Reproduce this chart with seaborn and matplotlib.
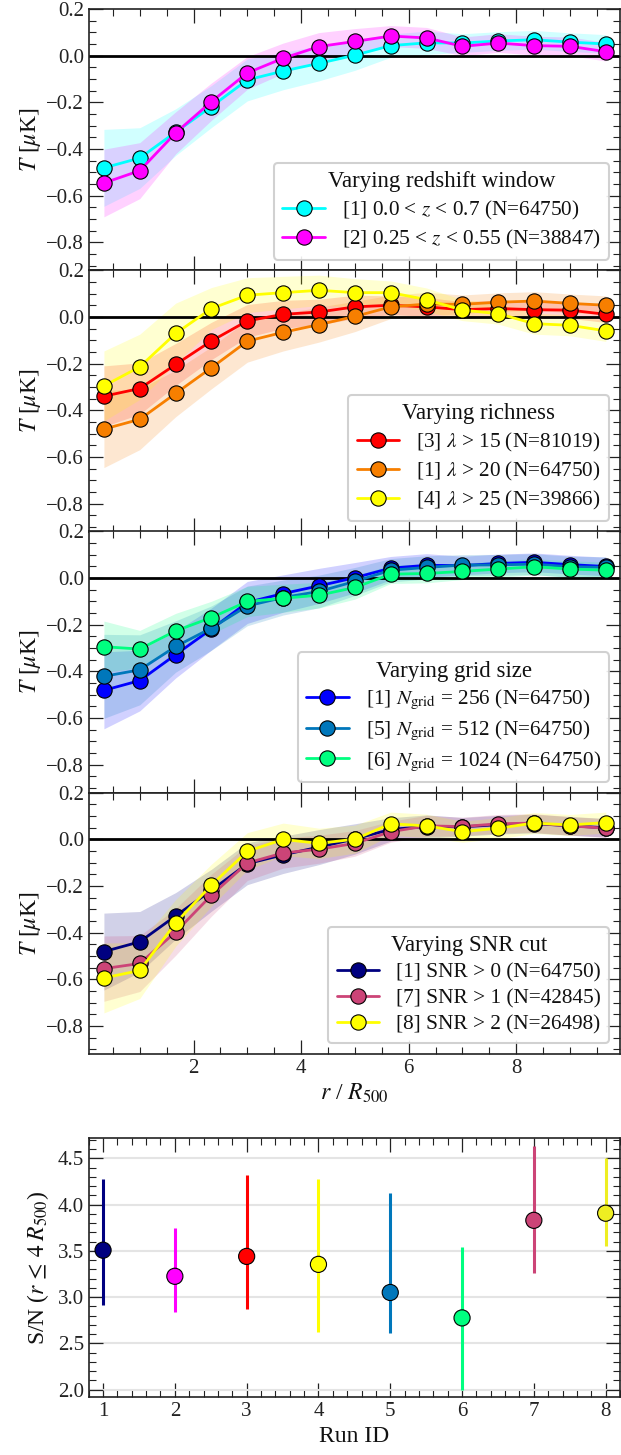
import numpy as np
import pandas as pd
import matplotlib
matplotlib.use("Agg")
import matplotlib.pyplot as plt
import seaborn as sns
from matplotlib.ticker import MultipleLocator

# Radial bin centres (r / R500)
r_bins = [0.333, 1.0, 1.667, 2.333, 3.0, 3.667, 4.333, 5.0,
          5.667, 6.333, 7.0, 7.667, 8.333, 9.0, 9.667]

# Stacked temperature profiles T [muK] and 1-sigma half widths per run
run1 = [-0.481, -0.439, -0.328, -0.218, -0.104, -0.066, -0.033, 0.002,
        0.043, 0.055, 0.054, 0.063, 0.068, 0.058, 0.050]
run1_err = [0.165, 0.13, 0.10, 0.09, 0.09, 0.08, 0.075, 0.065,
            0.05, 0.05, 0.04, 0.04, 0.04, 0.04, 0.04]
run2 = [-0.546, -0.493, -0.331, -0.197, -0.074, -0.011, 0.039, 0.061,
        0.084, 0.076, 0.040, 0.054, 0.043, 0.040, 0.017]
run2_err = [0.145, 0.12, 0.09, 0.08, 0.07, 0.065, 0.06, 0.055,
            0.045, 0.045, 0.04, 0.04, 0.04, 0.04, 0.04]
run3 = [-0.340, -0.307, -0.204, -0.103, -0.017, 0.011, 0.021, 0.043,
        0.050, 0.043, 0.031, 0.036, 0.031, 0.029, 0.011]
run3_err = [0.13, 0.11, 0.09, 0.08, 0.07, 0.06, 0.055, 0.05,
            0.04, 0.04, 0.035, 0.035, 0.035, 0.035, 0.035]
run4 = [-0.296, -0.214, -0.071, 0.036, 0.093, 0.104, 0.114, 0.104,
        0.104, 0.074, 0.029, 0.014, -0.029, -0.036, -0.060]
run4_err = [0.15, 0.14, 0.13, 0.09, 0.075, 0.07, 0.065, 0.06,
            0.05, 0.05, 0.045, 0.045, 0.045, 0.045, 0.045]
run5 = [-0.421, -0.393, -0.293, -0.214, -0.119, -0.083, -0.057, -0.014,
        0.034, 0.046, 0.056, 0.057, 0.060, 0.049, 0.046]
run5_err = [0.18, 0.15, 0.11, 0.095, 0.085, 0.075, 0.07, 0.06,
            0.05, 0.05, 0.045, 0.045, 0.045, 0.045, 0.045]
run6 = [-0.294, -0.304, -0.226, -0.169, -0.100, -0.086, -0.073, -0.040,
        0.017, 0.020, 0.029, 0.039, 0.049, 0.039, 0.034]
run6_err = [0.11, 0.08, 0.075, 0.07, 0.065, 0.06, 0.055, 0.05,
            0.04, 0.04, 0.035, 0.035, 0.035, 0.035, 0.035]
run7 = [-0.554, -0.532, -0.397, -0.239, -0.101, -0.058, -0.042, -0.017,
        0.033, 0.058, 0.055, 0.067, 0.070, 0.058, 0.048]
run7_err = [0.14, 0.12, 0.10, 0.09, 0.075, 0.065, 0.06, 0.055,
            0.045, 0.045, 0.04, 0.04, 0.04, 0.04, 0.04]
run8 = [-0.594, -0.562, -0.358, -0.196, -0.051, 0.000, -0.017, 0.001,
        0.067, 0.058, 0.033, 0.048, 0.070, 0.062, 0.072]
run8_err = [0.15, 0.12, 0.10, 0.09, 0.08, 0.07, 0.065, 0.06,
            0.05, 0.05, 0.045, 0.045, 0.045, 0.045, 0.045]

profiles = {1: (run1, run1_err), 2: (run2, run2_err), 3: (run3, run3_err),
            4: (run4, run4_err), 5: (run5, run5_err), 6: (run6, run6_err),
            7: (run7, run7_err), 8: (run8, run8_err)}

# Panel contents: legend title, runs, colours, labels
panel_titles = ["Varying redshift window", "Varying richness",
                "Varying grid size", "Varying SNR cut"]
panel_runs = [[1, 2], [3, 1, 4], [1, 5, 6], [1, 7, 8]]
panel_colors = [["#00ffff", "#ff00ff"],
                ["#ff0000", "#f77f00", "#ffff00"],
                ["#0000ff", "#0077bb", "#00ff80"],
                ["#000080", "#cc4477", "#ffff00"]]
panel_labels = [
    [r"[1] 0.0 < $z$ < 0.7 (N=64750)", r"[2] 0.25 < $z$ < 0.55 (N=38847)"],
    [r"[3] $\lambda$ > 15 (N=81019)", r"[1] $\lambda$ > 20 (N=64750)",
     r"[4] $\lambda$ > 25 (N=39866)"],
    [r"[1] $N_{\rm grid}$ = 256 (N=64750)", r"[5] $N_{\rm grid}$ = 512 (N=64750)",
     r"[6] $N_{\rm grid}$ = 1024 (N=64750)"],
    [r"[1] SNR > 0 (N=64750)", r"[7] SNR > 1 (N=42845)",
     r"[8] SNR > 2 (N=26498)"],
]

# Integrated S/N within 4 R500 for each run
run_ids = [1, 2, 3, 4, 5, 6, 7, 8]
sn_value = [3.507, 3.225, 3.44, 3.354, 3.05, 2.775, 3.83, 3.907]
sn_low = [2.918, 2.84, 2.87, 2.625, 2.607, 2.0, 3.26, 3.55]
sn_high = [4.28, 3.743, 4.32, 4.275, 4.13, 3.54, 4.636, 4.5]
sn_colors = ["#000080", "#ff00ff", "#ff0000", "#ffff00",
             "#0077bb", "#00ff80", "#cc4477", "#eeee22"]

sns.set_theme(style="ticks")
plt.rcParams.update({
    "mathtext.fontset": "stix",
    "axes.linewidth": 1.2,
    "axes.edgecolor": "#222222",
    "xtick.direction": "in",
    "ytick.direction": "in",
    "xtick.major.size": 10,
    "ytick.major.size": 10,
    "xtick.minor.size": 5,
    "ytick.minor.size": 5,
    "xtick.major.width": 0.9,
    "ytick.major.width": 0.9,
    "xtick.minor.width": 0.8,
    "ytick.minor.width": 0.8,
    "xtick.color": "#222222",
    "ytick.color": "#222222",
    "xtick.labelsize": 15,
    "ytick.labelsize": 15,
    "axes.labelsize": 17,
    "text.color": "#111111",
    "axes.labelcolor": "#111111",
})
plt.rcParams["font.family"] = ["Liberation Serif", "DejaVu Serif"]

W, H = 621, 1455
fig = plt.figure(figsize=(W / 100, H / 100), dpi=100)
left = 88.7 / W
width = (620 - 88.7) / W
ph = 261.25
top0 = 9.0

for i in range(4):
    bottom = 1 - (top0 + ph * (i + 1)) / H
    ax = fig.add_axes([left, bottom, width, ph / H])
    for run, col, lab in zip(panel_runs[i], panel_colors[i], panel_labels[i]):
        y, e = profiles[run]
        y = np.asarray(y)
        e = np.asarray(e)
        ax.fill_between(r_bins, y - e, y + e, color=col, alpha=0.18, lw=0, zorder=1)
        df = pd.DataFrame({"r": r_bins, "T": y})
        sns.lineplot(data=df, x="r", y="T", ax=ax, color=col, marker="o",
                     markersize=11, markeredgecolor="black", markeredgewidth=0.8,
                     linewidth=2, label=lab, errorbar=None, zorder=3)
    ax.axhline(0, color="black", lw=2, zorder=2)
    ax.set_xlim(0.05, 9.93)
    ax.set_ylim(-0.92, 0.2)
    ax.xaxis.set_major_locator(MultipleLocator(2))
    ax.xaxis.set_minor_locator(MultipleLocator(0.5))
    ax.yaxis.set_major_locator(MultipleLocator(0.2))
    ax.yaxis.set_minor_locator(MultipleLocator(0.05))
    ax.tick_params(which="both", top=True, right=True)
    ax.set_ylabel(r"$T$ [$\mu$K]", labelpad=2)
    if i < 3:
        ax.tick_params(labelbottom=False)
        ax.set_xlabel("")
    else:
        ax.set_xlabel(r"$r$ / $R_{500}$", labelpad=3)
    leg = ax.legend(title=panel_titles[i], loc="lower right", fontsize=15.3,
                    title_fontsize=16.5, frameon=True, fancybox=True,
                    edgecolor="#cccccc", framealpha=0.9, handlelength=2.0,
                    borderpad=0.4, labelspacing=0.3, handletextpad=0.8,
                    borderaxespad=0.5)
    leg.get_frame().set_linewidth(1.5)

# Integrated significance per run
axb = fig.add_axes([left, 1 - 1397 / H, width, 259 / H])
axb.yaxis.grid(True, color="#e4e4e4", lw=1.5)
axb.set_axisbelow(True)
axb.vlines(run_ids, sn_low, sn_high, colors=sn_colors, lw=2.2, zorder=2)
sn_df = pd.DataFrame({"run": run_ids, "sn": sn_value,
                      "hue": [str(k) for k in run_ids]})
sns.scatterplot(data=sn_df, x="run", y="sn", hue="hue",
                palette=dict(zip(sn_df["hue"], sn_colors)), s=135,
                edgecolor="black", linewidth=0.8, legend=False, ax=axb, zorder=3)
axb.set_xlim(0.8, 8.2)
axb.set_ylim(1.92, 4.72)
axb.xaxis.set_major_locator(MultipleLocator(1))
axb.xaxis.set_minor_locator(MultipleLocator(0.2))
axb.yaxis.set_major_locator(MultipleLocator(0.5))
axb.yaxis.set_minor_locator(MultipleLocator(0.1))
axb.tick_params(which="both", top=True, right=True)
axb.set_xlabel("Run ID", labelpad=4)
axb.set_ylabel(r"S/N ($r\,\leq\,4\;R_{500}$)", labelpad=5)

fig.savefig("out.png", dpi=100)
